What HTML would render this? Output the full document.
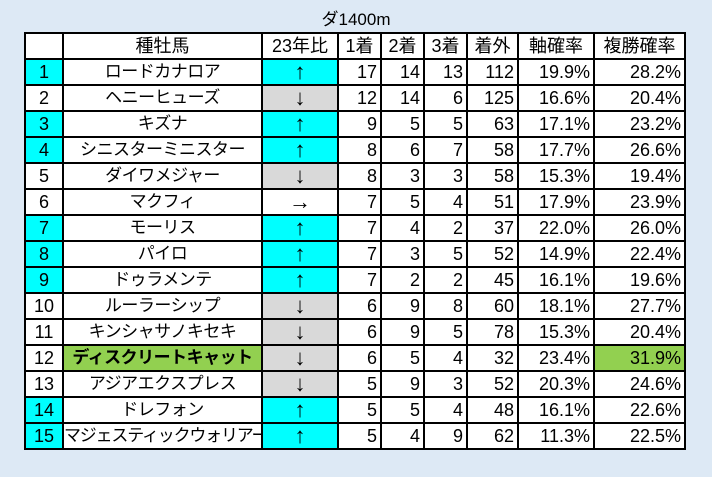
<!DOCTYPE html>
<html><head><meta charset="utf-8"><style>
body{margin:0;width:712px;height:477px;background:#dde9f5;font-family:"Liberation Sans","Noto Sans CJK JP",sans-serif;position:relative;overflow:hidden}
.t{position:absolute;top:5px;left:0;width:712px;text-align:center;font-size:17px}
table{position:absolute;left:24px;top:32px;width:661px;border-collapse:collapse;background:#fff;table-layout:fixed;border:2px solid #000}
tr{height:26px}
td{border:2px solid #000;padding:0 3px;font-size:18px;line-height:20px;white-space:nowrap;overflow:hidden}
.c{text-align:center}.r{text-align:right}
.cy{background:#00ffff}.g{background:#d9d9d9}.gr{background:#92d050}
.a{font-size:22px}
.n{font-size:17px;letter-spacing:-0.5px}
.s{padding:0;letter-spacing:-1.2px}
</style></head><body>
<div class="t">ダ1400m</div>
<table>
<colgroup><col style="width:38px"><col style="width:199px"><col style="width:76px"><col style="width:43px"><col style="width:43px"><col style="width:43px"><col style="width:51px"><col style="width:76px"><col style="width:91px"></colgroup>
<tr><td></td><td class="c">種牡馬</td><td class="c">23年比</td><td class="c">1着</td><td class="c">2着</td><td class="c">3着</td><td class="c">着外</td><td class="c">軸確率</td><td class="c">複勝確率</td></tr>
<tr><td class="c cy">1</td><td class="c n">ロードカナロア</td><td class="c cy a">↑</td><td class="r">17</td><td class="r">14</td><td class="r">13</td><td class="r">112</td><td class="r">19.9%</td><td class="r">28.2%</td></tr>
<tr><td class="c">2</td><td class="c n">ヘニーヒューズ</td><td class="c g a">↓</td><td class="r">12</td><td class="r">14</td><td class="r">6</td><td class="r">125</td><td class="r">16.6%</td><td class="r">20.4%</td></tr>
<tr><td class="c cy">3</td><td class="c n">キズナ</td><td class="c cy a">↑</td><td class="r">9</td><td class="r">5</td><td class="r">5</td><td class="r">63</td><td class="r">17.1%</td><td class="r">23.2%</td></tr>
<tr><td class="c cy">4</td><td class="c n">シニスターミニスター</td><td class="c cy a">↑</td><td class="r">8</td><td class="r">6</td><td class="r">7</td><td class="r">58</td><td class="r">17.7%</td><td class="r">26.6%</td></tr>
<tr><td class="c">5</td><td class="c n">ダイワメジャー</td><td class="c g a">↓</td><td class="r">8</td><td class="r">3</td><td class="r">3</td><td class="r">58</td><td class="r">15.3%</td><td class="r">19.4%</td></tr>
<tr><td class="c">6</td><td class="c n">マクフィ</td><td class="c a">→</td><td class="r">7</td><td class="r">5</td><td class="r">4</td><td class="r">51</td><td class="r">17.9%</td><td class="r">23.9%</td></tr>
<tr><td class="c cy">7</td><td class="c n">モーリス</td><td class="c cy a">↑</td><td class="r">7</td><td class="r">4</td><td class="r">2</td><td class="r">37</td><td class="r">22.0%</td><td class="r">26.0%</td></tr>
<tr><td class="c cy">8</td><td class="c n">パイロ</td><td class="c cy a">↑</td><td class="r">7</td><td class="r">3</td><td class="r">5</td><td class="r">52</td><td class="r">14.9%</td><td class="r">22.4%</td></tr>
<tr><td class="c cy">9</td><td class="c n">ドゥラメンテ</td><td class="c cy a">↑</td><td class="r">7</td><td class="r">2</td><td class="r">2</td><td class="r">45</td><td class="r">16.1%</td><td class="r">19.6%</td></tr>
<tr><td class="c">10</td><td class="c n">ルーラーシップ</td><td class="c g a">↓</td><td class="r">6</td><td class="r">9</td><td class="r">8</td><td class="r">60</td><td class="r">18.1%</td><td class="r">27.7%</td></tr>
<tr><td class="c">11</td><td class="c n">キンシャサノキセキ</td><td class="c g a">↓</td><td class="r">6</td><td class="r">9</td><td class="r">5</td><td class="r">78</td><td class="r">15.3%</td><td class="r">20.4%</td></tr>
<tr><td class="c">12</td><td class="c gr n"><b>ディスクリートキャット</b></td><td class="c g a">↓</td><td class="r">6</td><td class="r">5</td><td class="r">4</td><td class="r">32</td><td class="r">23.4%</td><td class="r gr">31.9%</td></tr>
<tr><td class="c">13</td><td class="c n">アジアエクスプレス</td><td class="c g a">↓</td><td class="r">5</td><td class="r">9</td><td class="r">3</td><td class="r">52</td><td class="r">20.3%</td><td class="r">24.6%</td></tr>
<tr><td class="c cy">14</td><td class="c n">ドレフォン</td><td class="c cy a">↑</td><td class="r">5</td><td class="r">5</td><td class="r">4</td><td class="r">48</td><td class="r">16.1%</td><td class="r">22.6%</td></tr>
<tr><td class="c cy">15</td><td class="c n s">マジェスティックウォリアー</td><td class="c cy a">↑</td><td class="r">5</td><td class="r">4</td><td class="r">9</td><td class="r">62</td><td class="r">11.3%</td><td class="r">22.5%</td></tr>
</table>
</body></html>
